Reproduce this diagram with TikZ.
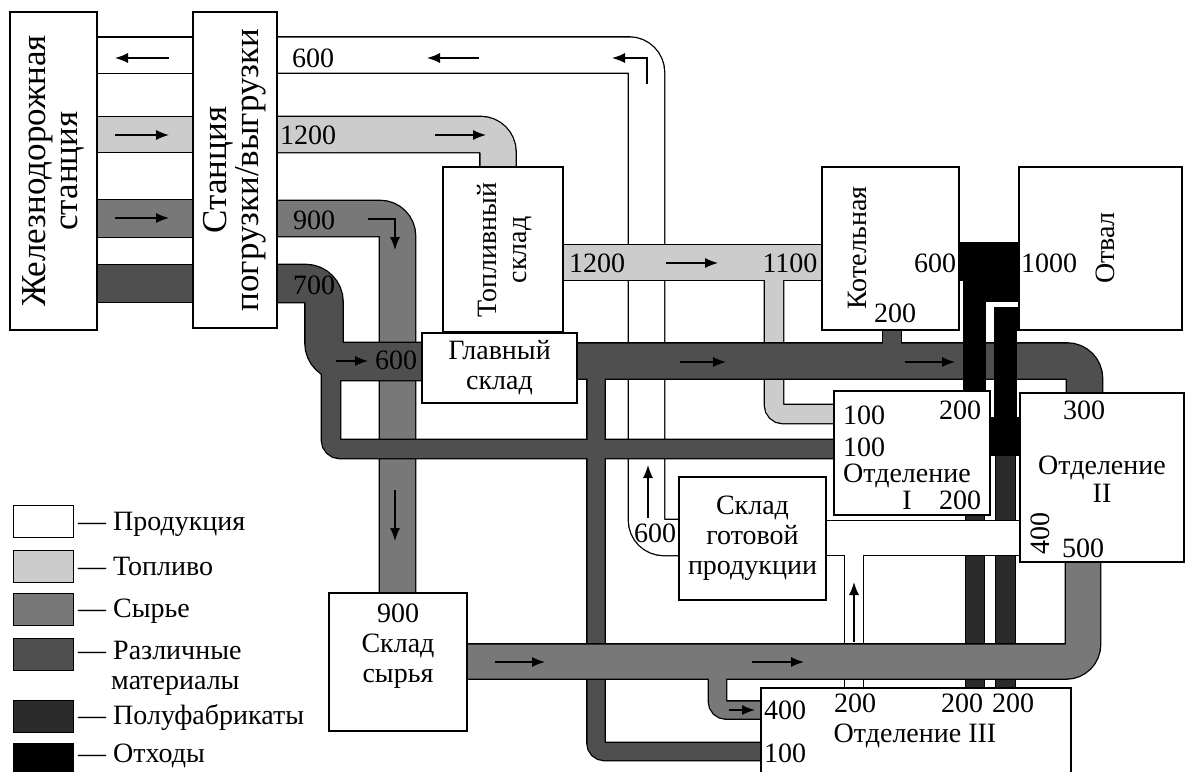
\documentclass[tikz,border=0pt]{standalone}
\usepackage{fontspec}
\setmainfont{Liberation Serif}
\usetikzlibrary{arrows.meta}

\definecolor{fuelc}{gray}{0.80}
\definecolor{rawc}{gray}{0.47}
\definecolor{matc}{gray}{0.31}
\definecolor{semic}{gray}{0.17}

\pgfdeclarelayer{flows}
\pgfsetlayers{flows,main}

\tikzset{
  box/.style={draw, line width=1.4pt, fill=white, inner sep=0pt},
  flowedge/.style={draw=black, line width=#1+2.6pt, rounded corners=#1/2},
  flowfill/.style 2 args={draw=#2, line width=#1, rounded corners=#1/2},
  flowarrow/.style={->, line width=1.4pt},
  lbl/.style={font=\fontsize{28}{30}\selectfont, inner sep=0pt},
  rlbl/.style={lbl, align=center, rotate=90},
  biglbl/.style={font=\fontsize{35}{32}\selectfont, align=center, inner sep=0pt, rotate=90},
}

% outlines of a group first, then its fills
\newcommand\flowgroup[3][]{%
  \foreach \w/\p in {#3}{\draw[flowedge=\w, #1] \p;}
  \foreach \w/\p in {#3}{\draw[flowfill={\w}{#2}, #1] \p;}}

\begin{document}
\begin{tikzpicture}[x=1pt, y=-1pt, >={Latex[length=13pt,width=10pt]}]
  \useasboundingbox (0,0) rectangle (1188,771);
  \clip (0,0) rectangle (1188,771);

  % boxes
  \node[box, minimum width=87pt, minimum height=318pt] (zd) at (53.5,171) {};
  \node[biglbl] (zdtext) at (zd) {Железнодорожная\\станция};
  \node[box, minimum width=84pt, minimum height=316pt] (pv) at (235,170) {};
  \node[biglbl] (pvtext) at (pv) {Станция\\погрузки/выгрузки};
  \node[box, minimum width=120pt, minimum height=165pt] (ts) at (503,249.5) {};
  \node[rlbl] (tstext) at (505,250) {Топливный\\склад};
  \node[box, lbl, align=center, minimum width=155pt, minimum height=70pt] (gs) at (499.5,368) {Главный\\склад};
  \node[box, minimum width=137pt, minimum height=163pt] (kt) at (890.5,248.5) {};
  \node[rlbl] (kttext) at (857,248) {Котельная};
  \node[box, minimum width=163pt, minimum height=163pt] (ot) at (1100.5,248.5) {};
  \node[rlbl] (ottext) at (1105,248) {Отвал};
  \node[box, minimum width=156pt, minimum height=124pt] (o1) at (912,453) {};
  \node[box, minimum width=164pt, minimum height=169pt] (o2) at (1102,477.5) {};
  \node[box, lbl, align=center, minimum width=147pt, minimum height=123pt] (sg) at (752.5,538.5) {Склад\\готовой\\продукции};
  \node[box, minimum width=138pt, minimum height=138pt] (ss) at (398,662) {};
  \node[lbl, align=center] (sstext) at (398,646) {900\\Склад\\сырья};
  \node[box, minimum width=310pt, minimum height=102pt] (o3) at (916,739) {};

  \begin{pgfonlayer}{flows}
    \fill[white] (0,0) rectangle (1188,771);
    % products, upper
    \flowgroup{white}{35pt/{(zd.east|-0,55) -- (pv.west|-0,55)},
      35pt/{(pv.east|-0,55) -- (646.5,55) -- (646.5,537.5) -- (sg.west|-0,537.5)}}
    % semi-finished
    \flowgroup{semic}{18pt/{(975,0|-o3.north) -- (975,0|-o1.south)},
      19pt/{(1005.5,0|-o3.north) -- (1005.5,436.5)}}
    % products, lower
    \flowgroup{white}{34pt/{(o2.west|-0,538) -- (sg.east|-0,538)},
      18pt/{(854,538) -- (854,0|-o3.north)}}
    % fuel
    \flowgroup{fuelc}{35pt/{(zd.east|-0,134.5) -- (pv.west|-0,134.5)},
      35pt/{(pv.east|-0,134.5) -- (498,134.5) -- (498,0|-ts.north)},
      35pt/{(ts.east|-0,262.5) -- (kt.west|-0,262.5)},
      18pt/{(774,262.5) -- (774,414) -- (o1.west|-0,414)}}
    % raw material in
    \flowgroup{rawc}{37pt/{(zd.east|-0,218.5) -- (pv.west|-0,218.5)},
      35pt/{(pv.east|-0,218.5) -- (397.5,218.5) -- (397.5,0|-ss.north)}}
    % materials
    \flowgroup{matc}{37pt/{(zd.east|-0,283.5) -- (pv.west|-0,283.5)},
      37pt/{(pv.east|-0,283.5) -- (324,283.5) -- (324,361.5) -- (gs.west|-0,361.5)},
      18pt/{(331,361.5) -- (331,449) -- (o1.west|-0,449)},
      35pt/{(gs.east|-0,361) -- (1084.5,361) -- (1084.5,0|-o2.north)},
      17pt/{(596,361) -- (596,751.5) -- (o3.west|-0,751.5)},
      18pt/{(892,0|-kt.south) -- (892,361)}}
    % raw material out
    \flowgroup{rawc}{34pt/{(ss.east|-0,661.5) -- (1083,661.5) -- (1083,0|-o2.south)},
      17pt/{(717.5,661.5) -- (717.5,710) -- (o3.west|-0,710)}}
    % waste
    \flowgroup[sharp corners]{black}{37pt/{(kt.east|-0,261.5) -- (ot.west|-0,261.5)},
      20pt/{(ot.west|-0,291) -- (974.5,291) -- (974.5,0|-o1.north)},
      21pt/{(ot.west|-0,319) -- (1005.5,319) -- (1005.5,436.5)},
      37pt/{(o1.east|-0,436.5) -- (o2.west|-0,436.5)}}
  \end{pgfonlayer}

  % arrows
  \draw[flowarrow] (169,58) -- (115,58);
  \draw[flowarrow] (479,58) -- (427,58);
  \draw[flowarrow] (647,84) -- (647,58) -- (612,58);
  \draw[flowarrow] (115,135) -- (169,135);
  \draw[flowarrow] (435,135) -- (486,135);
  \draw[flowarrow] (115,218) -- (169,218);
  \draw[flowarrow] (368,219) -- (395,219) -- (395,250);
  \draw[flowarrow] (395,490) -- (395,541);
  \draw[flowarrow] (666,263) -- (718,263);
  \draw[flowarrow] (336,361) -- (368,361);
  \draw[flowarrow] (680,362) -- (726,362);
  \draw[flowarrow] (905,362) -- (955,362);
  \draw[flowarrow] (495,662) -- (545,662);
  \draw[flowarrow] (752,662) -- (804,662);
  \draw[flowarrow] (729,710) -- (755,710);
  \draw[flowarrow] (648,518) -- (648,465);
  \draw[flowarrow] (854,642) -- (854,582);

  % flow values
  \node[lbl, anchor=base] (v600top) at (313,67) {600};
  \node[lbl, anchor=base] (v1200top) at (308,144) {1200};
  \node[lbl, anchor=base] (v900top) at (314,229) {900};
  \node[lbl, anchor=base] (v700top) at (314,294) {700};
  \node[lbl, anchor=base] (v600gs) at (396,369) {600};
  \node[lbl, anchor=base] (v1200ts) at (597,272) {1200};
  \node[lbl, anchor=base] (v1100kt) at (790,272) {1100};
  \node[lbl, anchor=base] (v600kt) at (935,272) {600};
  \node[lbl, anchor=base] (v200kt) at (895,322) {200};
  \node[lbl, anchor=base] (v1000ot) at (1049,272) {1000};
  \node[lbl, anchor=base] (v600sg) at (655,542) {600};
  % department I
  \node[lbl, anchor=base west] (o1fuel) at (843,424) {100};
  \node[lbl, anchor=base west] (o1mat) at (843,456) {100};
  \node[lbl, anchor=base west] (o1name) at (843,482) {Отделение};
  \node[lbl, anchor=base] (o1num) at (907,509) {I};
  \node[lbl, anchor=base] (o1waste) at (960,419) {200};
  \node[lbl, anchor=base] (o1semi) at (960,509) {200};
  % department II
  \node[lbl, anchor=base] (o2mat) at (1084,419) {300};
  \node[lbl, anchor=base] (o2name) at (1102,474) {Отделение};
  \node[lbl, anchor=base] (o2num) at (1102,502) {II};
  \node[rlbl] (o2prod) at (1040,533) {400};
  \node[lbl, anchor=base] (o2raw) at (1083,557) {500};
  % department III
  \node[lbl, anchor=base] (o3raw) at (785,719) {400};
  \node[lbl, anchor=base] (o3prod) at (855,712) {200};
  \node[lbl, anchor=base] (o3semia) at (962,712) {200};
  \node[lbl, anchor=base] (o3semib) at (1013,712) {200};
  \node[lbl, anchor=base] (o3name) at (915,742) {Отделение III};
  \node[lbl, anchor=base] (o3mat) at (785,762) {100};

  % legend
  \foreach \y/\b/\c/\t [count=\i] in {505/530/white/Продукция, 550/575/fuelc/Топливо,
      593/617/rawc/Сырье, 638/659/matc/Различные, 700/724/semic/Полуфабрикаты,
      743/762/black/Отходы}{
    \node[box, fill=\c, minimum width=60pt, minimum height=32pt, anchor=north west] (key\i) at (13,\y) {};
    \node[lbl, anchor=base west] (keytext\i) at (78,\b) {— \t};
  }
  \node[lbl, anchor=base west] (keytext4b) at (111,689) {материалы};
\end{tikzpicture}
\end{document}
